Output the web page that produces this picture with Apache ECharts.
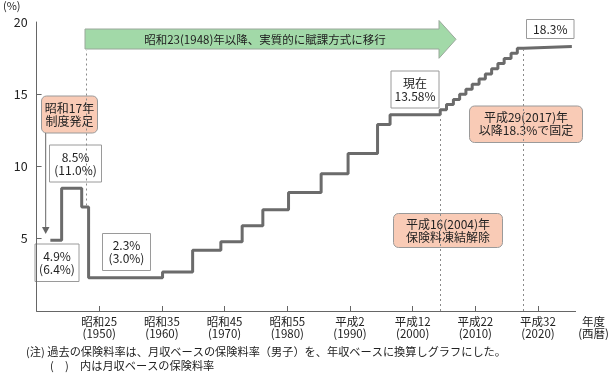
<!DOCTYPE html>
<html>
<head>
<meta charset="utf-8">
<script src="https://cdn.jsdelivr.net/npm/echarts@6/dist/echarts.min.js"></script>
<style>
html, body { margin: 0; padding: 0; background: #fff; }
#chart { width: 612px; height: 377px; }
</style>
</head>
<body>
<div id="chart"></div>
<script>
// step start (fiscal year, as drawn) and annual-basis rate (%)
var stepYears = [1942.2, 1944, 1947.2, 1948.3, 1960.1, 1964.9, 1969.4, 1972.8, 1976.1, 1980.2, 1985.4, 1989.7, 1994.4, 1996.4,
  2004.4, 2005.4, 2006.5, 2007.5, 2008.5, 2009.5, 2010.6, 2011.6, 2012.6, 2013.6, 2014.6, 2015.7, 2016.7, 2017.7, 2025.4];
var rates = [4.9, 8.5, 7.2, 2.3, 2.7, 4.2, 4.8, 5.9, 7.0, 8.2, 9.5, 10.9, 12.9, 13.58,
  13.93, 14.29, 14.64, 15.00, 15.35, 15.70, 16.06, 16.41, 16.77, 17.12, 17.47, 17.83, 18.18, 18.3, 18.3];

var tickYears = [1950, 1960, 1970, 1980, 1990, 2000, 2010, 2020];
var eraNames = ['昭和25', '昭和35', '昭和45', '昭和55', '平成2', '平成12', '平成22', '平成32'];
var yTicks = [5, 10, 15, 20];

// dotted guide lines: [year, from, to]
var guides = [[1947.9, 7.3, 18.05], [2004.4, 0, 13.58], [2017.7, 0, 18.3]];

var FONT = '"Noto Sans CJK JP", "Noto Sans", sans-serif';
var TXT = '#222';
var SALMON = '#f9cbb6';

var seriesData = [];
for (var i = 0; i < stepYears.length; i++) {
  seriesData.push([stepYears[i], rates[i]]);
}

var guideLines = guides.map(function (g) {
  return [{ coord: [g[0], g[1]] }, { coord: [g[0], g[2]] }];
});

function box(x, y, w, h, text, fill, r) {
  return {
    type: 'group',
    children: [
      { type: 'rect', shape: { x: x, y: y, width: w, height: h, r: r || 0 },
        style: { fill: fill || '#fff', stroke: '#9a9a9a', lineWidth: 1 } },
      { type: 'text', x: x + w / 2, y: y + h / 2,
        style: { text: text, fill: TXT, font: '12px ' + FONT, align: 'center', verticalAlign: 'middle', lineHeight: 13 } }
    ]
  };
}

var graphics = [
  // green arrow
  { type: 'polygon',
    shape: { points: [[85, 29], [439, 29], [439, 20.5], [456, 39.3], [439, 58.3], [439, 49], [85, 49]] },
    style: { fill: '#a2d9a8', stroke: '#9aa89b', lineWidth: 1 } },
  { type: 'text', x: 265, y: 39.5,
    style: { text: '昭和23(1948)年以降、実質的に賦課方式に移行', fill: TXT, font: '11.5px ' + FONT, align: 'center', verticalAlign: 'middle' } },
  // 昭和17年 box and arrow
  box(41.5, 96, 56, 37, '昭和17年\n制度発足', SALMON, 5),
  { type: 'line', shape: { x1: 45.7, y1: 133, x2: 45.7, y2: 228 }, style: { stroke: '#666', lineWidth: 1 } },
  { type: 'polygon', shape: { points: [[42, 227], [49.5, 227], [45.7, 234]] }, style: { fill: '#666' } },
  box(49.5, 145, 52, 37, '8.5%\n(11.0%)'),
  box(35, 244, 44, 37.5, '4.9%\n(6.4%)'),
  box(102.5, 233.5, 48, 37, '2.3%\n(3.0%)'),
  box(391, 71, 48, 37, '現在\n13.58%'),
  box(526.5, 19.5, 47.5, 19, '18.3%'),
  box(469.5, 106, 113, 36.5, '平成29(2017)年\n以降18.3%で固定', SALMON, 5),
  box(393.5, 213.5, 109, 34, '平成16(2004)年\n保険料凍結解除', SALMON, 5),
  // notes
  { type: 'text', x: 26, y: 352,
    style: { text: '(注) 過去の保険料率は、月収ベースの保険料率（男子）を、年収ベースに換算しグラフにした。', fill: TXT, font: '11.2px ' + FONT, verticalAlign: 'middle' } },
  { type: 'text', x: 50, y: 366,
    style: { text: '(　)', fill: TXT, font: '11.2px ' + FONT, verticalAlign: 'middle' } },
  { type: 'text', x: 80, y: 366,
    style: { text: '内は月収ベースの保険料率', fill: TXT, font: '11.2px ' + FONT, verticalAlign: 'middle' } }
];

var chart = echarts.init(document.getElementById('chart'));
chart.setOption({
  animation: false,
  grid: { left: 34, right: 33, top: 21, bottom: 66, containLabel: false },
  xAxis: {
    type: 'value', min: 1940, max: 2026,
    name: '年度\n(西暦)', nameLocation: 'end', nameGap: 18,
    nameTextStyle: { color: TXT, fontFamily: FONT, fontSize: 11.5, align: 'center', verticalAlign: 'top', lineHeight: 12, padding: [5, 0, 0, 0] },
    axisLine: { lineStyle: { color: '#666', width: 1 } },
    axisTick: { inside: true, length: 5, customValues: tickYears, lineStyle: { color: '#666' } },
    axisLabel: {
      customValues: tickYears, color: TXT, fontFamily: FONT, fontSize: 11.5, lineHeight: 12, margin: 5,
      formatter: function (v) { var k = tickYears.indexOf(v); return k < 0 ? '' : eraNames[k] + '\n(' + v + ')'; }
    },
    splitLine: { show: false }
  },
  yAxis: {
    type: 'value', min: 0, max: 20, interval: 5,
    name: '(%)', nameLocation: 'end', nameGap: 11,
    nameTextStyle: { color: TXT, fontFamily: FONT, fontSize: 11, align: 'right', padding: [0, 16, 0, 0] },
    axisLine: { show: true, lineStyle: { color: '#666', width: 1 } },
    axisTick: { show: true, inside: true, length: 5, customValues: [5, 10, 15], lineStyle: { color: '#666' } },
    axisLabel: { customValues: yTicks, color: TXT, fontFamily: FONT, fontSize: 12.5, margin: 9 },
    splitLine: { show: false }
  },
  series: [{
    type: 'line', step: 'end', data: seriesData, symbol: 'none',
    lineStyle: { color: '#6b6b6b', width: 3 },
    markLine: {
      silent: true, symbol: 'none', label: { show: false },
      lineStyle: { color: '#8a8a8a', width: 1, type: [2, 3] },
      data: guideLines
    }
  }],
  graphic: graphics
});
</script>
</body>
</html>
